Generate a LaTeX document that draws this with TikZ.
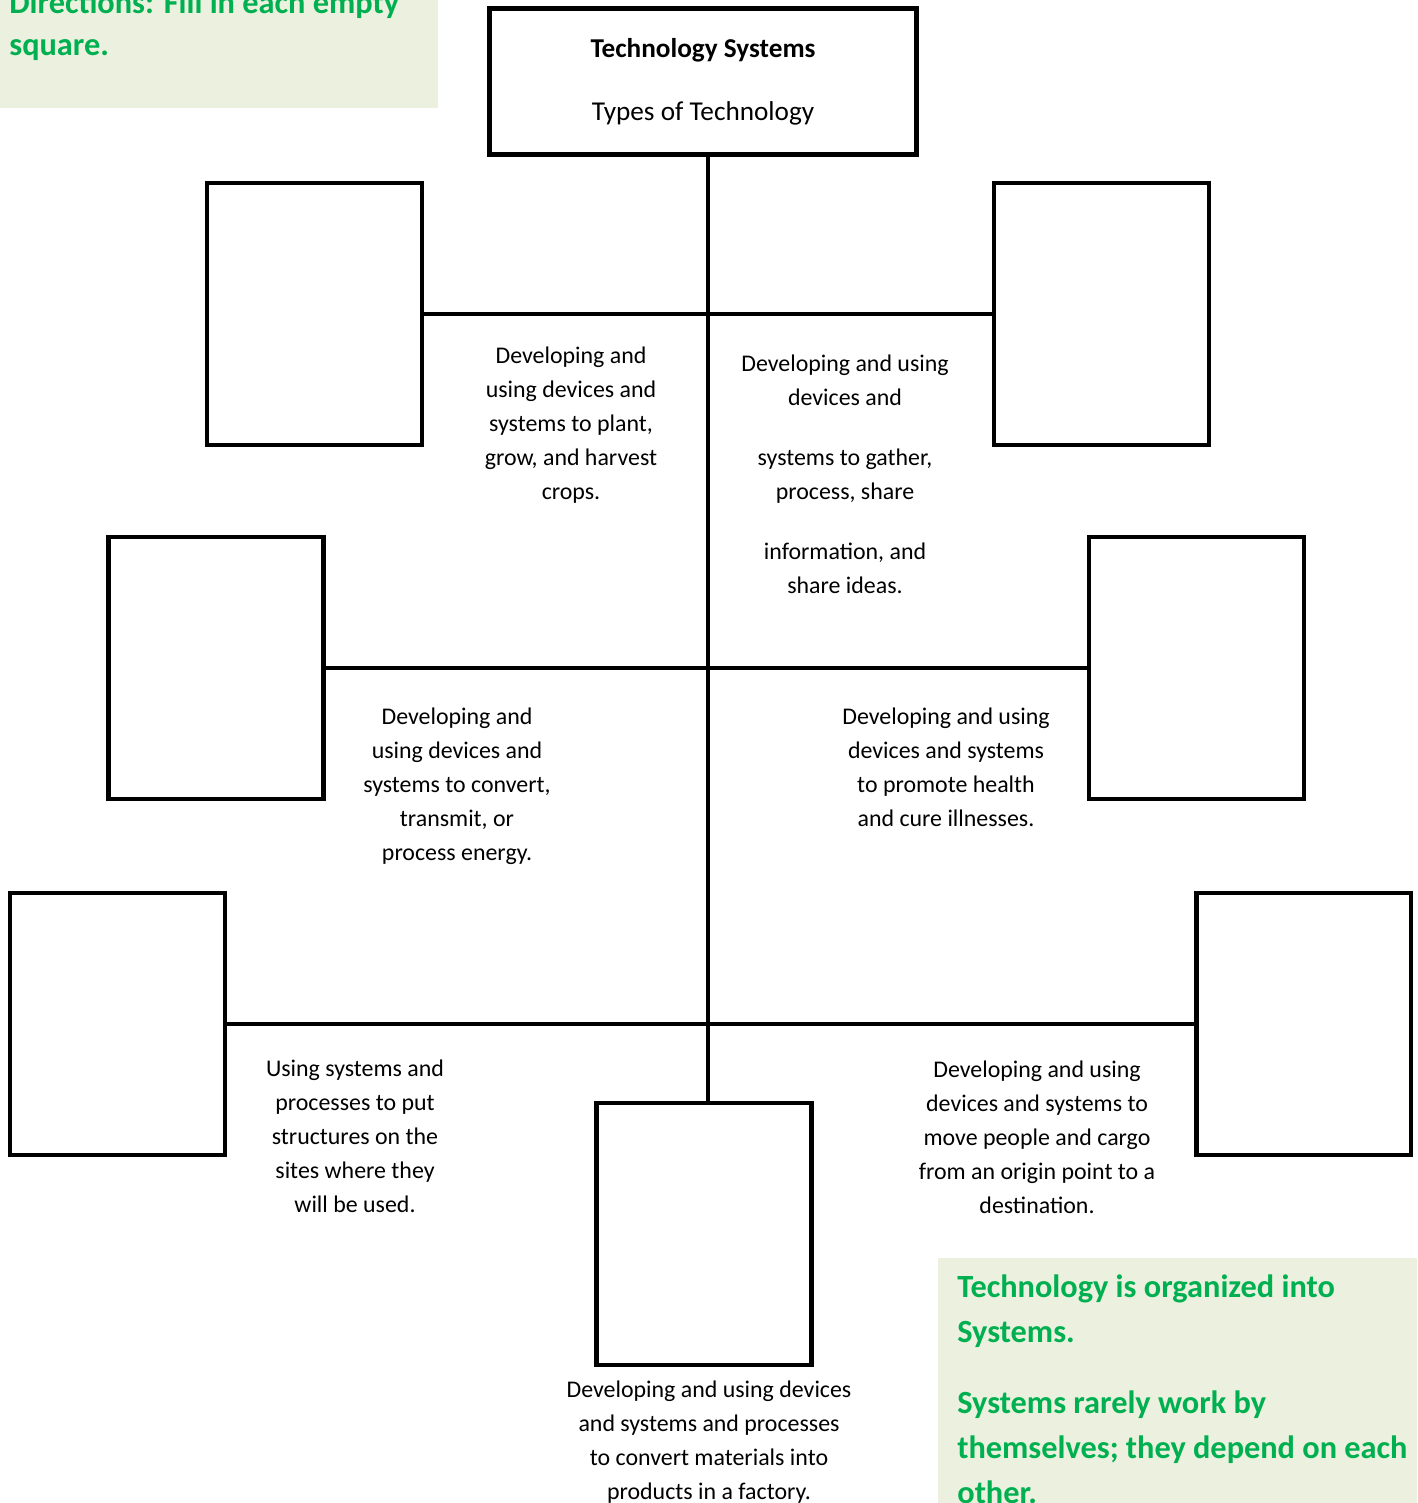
\documentclass[tikz,border=0pt]{standalone}
\usepackage{fontspec}
\setmainfont{Carlito}
\usetikzlibrary{positioning}
\definecolor{note-fill}{HTML}{EBF1DE}
\definecolor{note-text}{HTML}{00B050}
\tikzset{
  blank/.style={
    draw=black, line width=2.8pt, minimum width=4.3cm, minimum height=5.24cm, inner sep=0pt
  },
  headbox/.style={
    draw=black, line width=2.8pt, minimum width=8.54cm, minimum height=2.92cm,
    align=center, font=\fontsize{15.5}{18.5}\selectfont
  },
  branch/.style={line width=2.7pt},
  blurb/.style={align=center, inner sep=0pt, font=\fontsize{13.6}{19.35}\selectfont},
  note/.style={
    align=left, anchor=north west, inner sep=0pt, text=note-text,
    font=\bfseries\fontsize{18.4}{25.6}\selectfont
  }
}

\begin{document}
\begin{tikzpicture}[x=0.02cm, y=-0.02cm]

  \useasboundingbox (0,0) rectangle (1417,1503);
  \clip (0,0) rectangle (1417,1503);

  % ---- Green note panels ---------------------------------------------------
  \fill[note-fill] (0,0) rectangle (438,108);
  \fill[note-fill] (938,1258) rectangle (1417,1503);
  \node[note, font=\bfseries\fontsize{18.4}{23.9}\selectfont] (directions) at (9,-9.5)
        {Directions: Fill in each empty\\square.};
  \node[note] (summary) at (957,1274.5)
        {Technology is organized into\\Systems.\\[14.8pt]
         Systems rarely work by\\themselves; they depend on each\\other.};

  % ---- Title ---------------------------------------------------------------
  \node[headbox] (title) at (703,81.5)
        {\textbf{Technology Systems}\\[17.2pt]Types of Technology};

  % ---- Empty squares -------------------------------------------------------
  \node[blank] (top-left)  at (314.5, 314)  {};
  \node[blank] (top-right) at (1101.5,314)  {};
  \node[blank] (mid-left)  at (216,   668)  {};
  \node[blank] (mid-right) at (1196.5,668)  {};
  \node[blank] (low-left)  at (117.5, 1024) {};
  \node[blank] (low-right) at (1303.5,1024) {};
  \node[blank] (bottom)    at (704,   1234) {};
  \coordinate (trunk) at (708,0);

  % ---- Trunk and branches --------------------------------------------------
  \draw[branch] (title.south -| trunk) -- (bottom.north -| trunk);
  \draw[branch] (top-left.east) -- (top-right.west);
  \draw[branch] (mid-left.east) -- (mid-right.west);
  \draw[branch] (low-left.east) -- (low-right.west);

  % ---- Descriptions --------------------------------------------------------
  \node[blurb] (agri) at (571,425.5)
        {Developing and\\using devices and\\systems to plant,\\grow, and harvest\\crops.};
  \node[blurb] (info) at (845,474)
        {Developing and using\\devices and\\[14.8pt]systems to gather,\\process, share\\[14.8pt]
         information, and\\share ideas.};
  \node[blurb] (energy) at (457,786.5)
        {Developing and\\using devices and\\systems to convert,\\transmit, or\\process energy.};
  \node[blurb] (health) at (946,767.5)
        {Developing and using\\devices and systems\\to promote health\\and cure illnesses.};
  \node[blurb] (build) at (355,1136)
        {Using systems and\\processes to put\\structures on the\\sites where they\\will be used.};
  \node[blurb] (transport) at (1037,1137)
        {Developing and using\\devices and systems to\\move people and cargo\\from an origin point to a\\destination.};
  \node[blurb] (factory) at (709,1442.5)
        {Developing and using devices\\and systems and processes\\to convert materials into\\products in a factory.};

\end{tikzpicture}
\end{document}
